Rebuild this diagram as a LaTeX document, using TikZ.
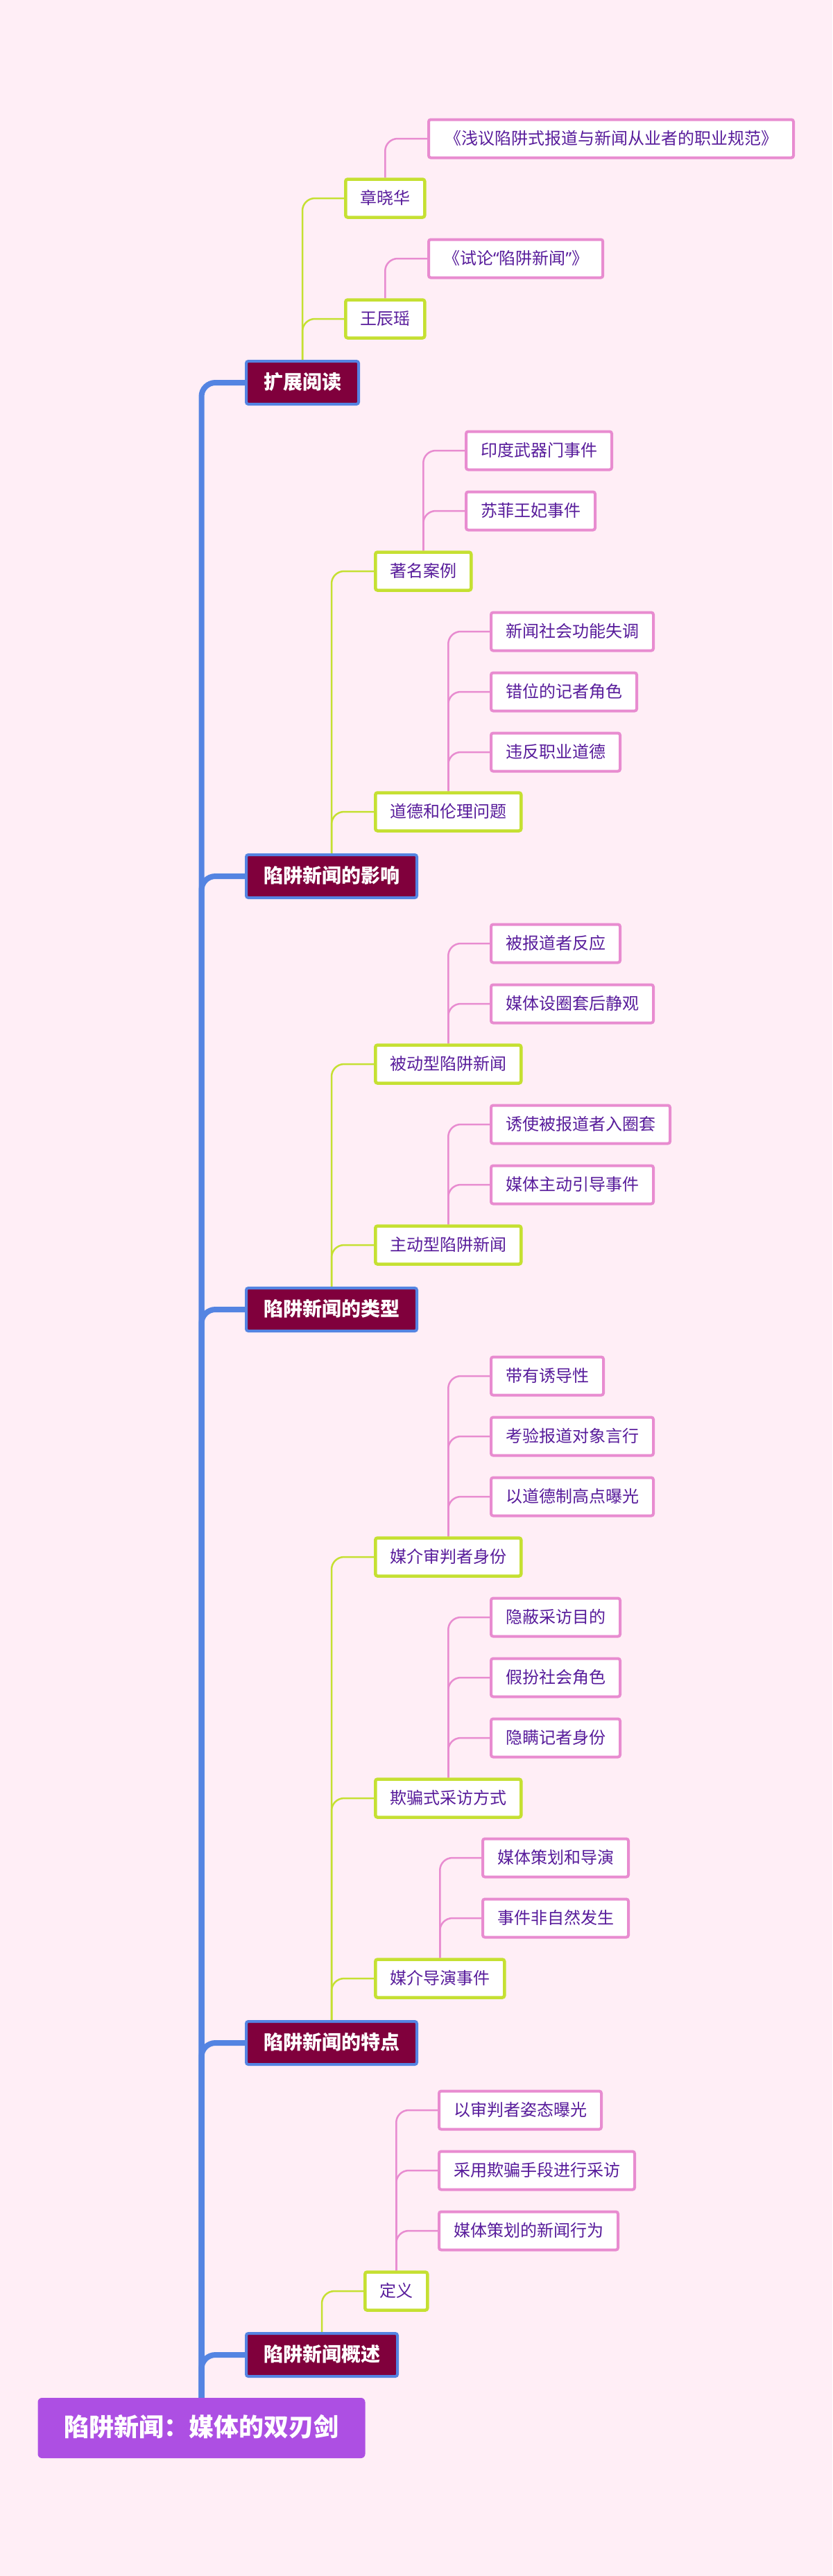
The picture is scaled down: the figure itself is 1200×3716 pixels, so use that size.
\documentclass[tikz,border=0pt]{standalone}
\usepackage{fontspec}
\newfontfamily\cjk{Noto Sans CJK SC}
\newfontfamily\latq{Noto Sans}
\usetikzlibrary{backgrounds}
\definecolor{bgc}{RGB}{255,238,246}
\definecolor{rootc}{RGB}{173,79,227}
\definecolor{maroon}{RGB}{128,0,60}
\definecolor{bluec}{RGB}{84,132,226}
\definecolor{greenc}{RGB}{197,224,50}
\definecolor{pinkc}{RGB}{232,140,208}
\definecolor{txtc}{RGB}{88,28,155}
\tikzset{
  rootbox/.style={fill=rootc, rounded corners=6pt, text=white, font=\cjk\bfseries\fontsize{36}{40}\selectfont, inner xsep=38pt, inner ysep=0pt, minimum height=87pt, text height=30pt, text depth=6pt},
  mainbox/.style={draw=bluec, fill=maroon, line width=4pt, rounded corners=3pt, text=white, font=\cjk\bfseries\fontsize{28}{32}\selectfont, inner xsep=25pt, inner ysep=0pt, minimum height=62pt, text height=23pt, text depth=5pt, anchor=west},
  subbox/.style={draw=greenc, fill=white, line width=4.5pt, rounded corners=3pt, text=txtc, font=\cjk\fontsize{24}{28}\selectfont, inner xsep=21pt, inner ysep=0pt, minimum height=55pt, text height=20pt, text depth=4pt, anchor=west},
  leafbox/.style={subbox, draw=pinkc, line width=4pt},
  stem/.style={draw=bluec, line width=8pt, rounded corners=20pt},
  gline/.style={draw=greenc, line width=2.5pt, rounded corners=18pt},
  pline/.style={draw=pinkc, line width=2.5pt, rounded corners=18pt},
}
\begin{document}
\begin{tikzpicture}[x=1pt,y=-1pt]
\begin{pgfonlayer}{background}
\fill[bgc] (0,0) rectangle (1200,3716);
\end{pgfonlayer}
\useasboundingbox (0,0) rectangle (1200,3716);

% root
\node[rootbox] (root) at (290.5,3502.5) {陷阱新闻：媒体的双刃剑};

% level 1
\node[mainbox] (k1) at (353,552) {扩展阅读};
\node[mainbox] (k2) at (353,1264) {陷阱新闻的影响};
\node[mainbox] (k3) at (353,1889) {陷阱新闻的类型};
\node[mainbox] (k4) at (353,2947) {陷阱新闻的特点};
\node[mainbox] (k5) at (353,3397) {陷阱新闻概述};

% branch 1
\node[subbox] (a1) at (496,286) {章晓华};
\node[subbox] (a2) at (496,460) {王辰瑶};
\node[leafbox, minimum width=526pt] (a11) at (616,200) {《浅议陷阱式报道与新闻从业者的职业规范》};
\node[leafbox] (a21) at (616,373) {《试论{\latq “}陷阱新闻{\latq ”}》};

% branch 2
\node[subbox] (b1) at (539,824) {著名案例};
\node[subbox] (b2) at (539,1171) {道德和伦理问题};
\node[leafbox] (b11) at (670,650) {印度武器门事件};
\node[leafbox] (b12) at (670,737) {苏菲王妃事件};
\node[leafbox] (b21) at (706,911) {新闻社会功能失调};
\node[leafbox] (b22) at (706,998) {错位的记者角色};
\node[leafbox] (b23) at (706,1085) {违反职业道德};

% branch 3
\node[subbox] (c1) at (539,1535) {被动型陷阱新闻};
\node[subbox] (c2) at (539,1796) {主动型陷阱新闻};
\node[leafbox] (c11) at (706,1361) {被报道者反应};
\node[leafbox] (c12) at (706,1448) {媒体设圈套后静观};
\node[leafbox] (c21) at (706,1622) {诱使被报道者入圈套};
\node[leafbox] (c22) at (706,1709) {媒体主动引导事件};

% branch 4
\node[subbox] (d1) at (539,2246) {媒介审判者身份};
\node[subbox] (d2) at (539,2594) {欺骗式采访方式};
\node[subbox] (d3) at (539,2854) {媒介导演事件};
\node[leafbox] (d11) at (706,1985) {带有诱导性};
\node[leafbox] (d12) at (706,2072) {考验报道对象言行};
\node[leafbox] (d13) at (706,2159) {以道德制高点曝光};
\node[leafbox] (d21) at (706,2333) {隐蔽采访目的};
\node[leafbox] (d22) at (706,2420) {假扮社会角色};
\node[leafbox] (d23) at (706,2507) {隐瞒记者身份};
\node[leafbox] (d31) at (694,2680) {媒体策划和导演};
\node[leafbox] (d32) at (694,2767) {事件非自然发生};

% branch 5
\node[subbox] (e1) at (524,3305) {定义};
\node[leafbox] (e11) at (631,3044) {以审判者姿态曝光};
\node[leafbox] (e12) at (631,3131) {采用欺骗手段进行采访};
\node[leafbox] (e13) at (631,3218) {媒体策划的新闻行为};

\begin{pgfonlayer}{background}
% stem
\foreach \k in {k1,k2,k3,k4,k5} \draw[stem] (root.north) |- (\k.west);
% green
\foreach \p/\c in {k1/a1,k1/a2,k2/b1,k2/b2,k3/c1,k3/c2,k4/d1,k4/d2,k4/d3,k5/e1}
  \draw[gline] (\p.north) |- (\c.west);
% pink
\foreach \p/\c in {a1/a11,a2/a21,b1/b11,b1/b12,b2/b21,b2/b22,b2/b23,c1/c11,c1/c12,c2/c21,c2/c22,d1/d11,d1/d12,d1/d13,d2/d21,d2/d22,d2/d23,d3/d31,d3/d32,e1/e11,e1/e12,e1/e13}
  \draw[pline] (\p.north) |- (\c.west);
\end{pgfonlayer}
\end{tikzpicture}
\end{document}
